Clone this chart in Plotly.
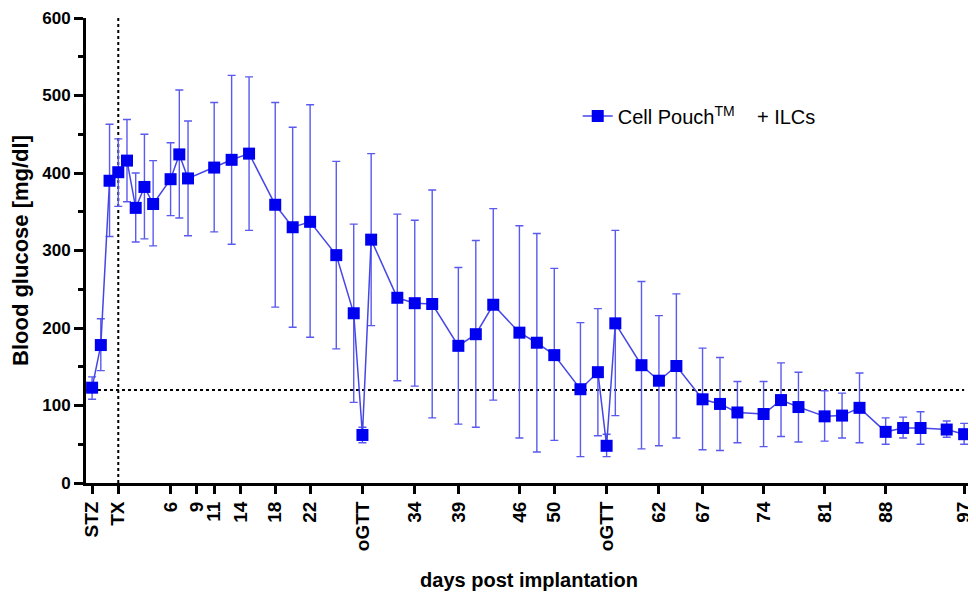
import plotly.graph_objects as go

days = [-3, -2, -1, 0, 1, 2, 3, 4, 6, 7, 8, 11, 13, 15, 18, 20, 22, 25, 27, 28, 29,
        32, 34, 36, 39, 41, 43, 46, 48, 50, 53, 55, 56, 57, 60, 62, 64, 67, 69, 71,
        74, 76, 78, 81, 83, 85, 88, 90, 92, 95, 97]
glucose_mean = [123, 178, 390, 401, 416, 355, 382, 360, 392, 424, 393, 407, 417, 425,
                359, 330, 337, 294, 219, 62, 314, 239, 232, 231, 177, 192, 230, 194,
                181, 165, 121, 143, 48, 206, 152, 132, 151, 108, 102, 91, 89, 107, 98,
                86, 87, 97, 66, 71, 71, 69, 63]
glucose_upper = [137, 212, 463, 444, 469, 400, 450, 416, 439, 507, 467, 491, 526, 524,
                 491, 459, 488, 415, 334, 72, 425, 347, 339, 378, 278, 313, 354, 332,
                 322, 277, 207, 225, 63, 326, 260, 216, 244, 174, 162, 131, 131, 155,
                 143, 119, 116, 142, 84, 85, 92, 80, 77]
glucose_lower = [108, 145, 318, 357, 363, 311, 315, 306, 345, 342, 319, 324, 308, 326,
                 227, 201, 188, 173, 104, 52, 203, 132, 125, 84, 76, 72, 107, 58, 40,
                 55, 34, 61, 34, 87, 44, 48, 58, 43, 42, 52, 47, 60, 53, 54, 58, 52,
                 50, 58, 50, 59, 50]

tick_vals = [-3, 0, 6, 9, 11, 14, 18, 22, 28, 34, 39, 46, 50, 56, 62, 67, 74, 81, 88, 97]
tick_text = ["STZ", "TX", "6", "9", "11", "14", "18", "22", "oGTT", "34", "39", "46",
             "50", "oGTT", "62", "67", "74", "81", "88", "97"]

series_name = "Cell Pouch<sup>TM</sup>&nbsp;&nbsp;&nbsp; + ILCs"
threshold = 120
x_range = [-3.7, 97.9]

err_plus = [u - m for u, m in zip(glucose_upper, glucose_mean)]
err_minus = [m - l for m, l in zip(glucose_mean, glucose_lower)]

FONT = "Arial, Liberation Sans, sans-serif"

fig = go.Figure()
fig.add_trace(go.Scatter(
    x=days, y=glucose_mean, mode="lines+markers", name=series_name,
    line=dict(color="#4646e6", width=1.5),
    marker=dict(symbol="square", size=12, color="#0000f0"),
    error_y=dict(type="data", symmetric=False, array=err_plus, arrayminus=err_minus,
                 color="#5a5af0", thickness=1.4, width=4),
))

fig.add_shape(type="line", x0=0, x1=0, y0=0, y1=600, xref="x", yref="y",
              line=dict(color="black", width=2, dash="dot"), layer="below")
fig.add_shape(type="line", x0=x_range[0], x1=97, y0=threshold, y1=threshold,
              xref="x", yref="y", line=dict(color="black", width=2, dash="dot"),
              layer="below")

# page body adds an 8px offset, so the figure is slightly smaller and margins shifted
fig.update_layout(
    width=968, height=586,
    margin=dict(l=78, r=4, t=10, b=111, autoexpand=False),
    paper_bgcolor="white", plot_bgcolor="white",
    font=dict(family=FONT, color="black"),
    showlegend=True,
    legend=dict(x=0.555, y=0.789, xanchor="left", yanchor="middle",
                font=dict(size=20, family=FONT), bgcolor="rgba(0,0,0,0)"),
    xaxis=dict(
        range=x_range, tickmode="array", tickvals=tick_vals, ticktext=tick_text,
        tickangle=-90, ticks="outside", ticklen=8, tickwidth=3, tickcolor="black",
        showline=True, linewidth=3, linecolor="black", showgrid=False, zeroline=False,
        automargin=False, ticklabeloverflow="allow",
        tickfont=dict(size=19, family=FONT, weight="bold"),
        title=dict(text="days post implantation", standoff=23,
                   font=dict(size=20, family=FONT, weight="bold")),
    ),
    yaxis=dict(
        range=[0, 600], tickvals=[0, 100, 200, 300, 400, 500, 600],
        ticks="outside", ticklen=9, tickwidth=3, tickcolor="black",
        minor=dict(dtick=50, ticks="outside", ticklen=5, tickwidth=3, tickcolor="black"),
        showline=True, linewidth=3, linecolor="black", showgrid=False, zeroline=False,
        automargin=False,
        tickfont=dict(size=17, family=FONT, weight="bold"),
        title=dict(text="Blood glucose [mg/dl]", standoff=10,
                   font=dict(size=22, family=FONT, weight="bold")),
    ),
)

fig.write_html("out.html")
